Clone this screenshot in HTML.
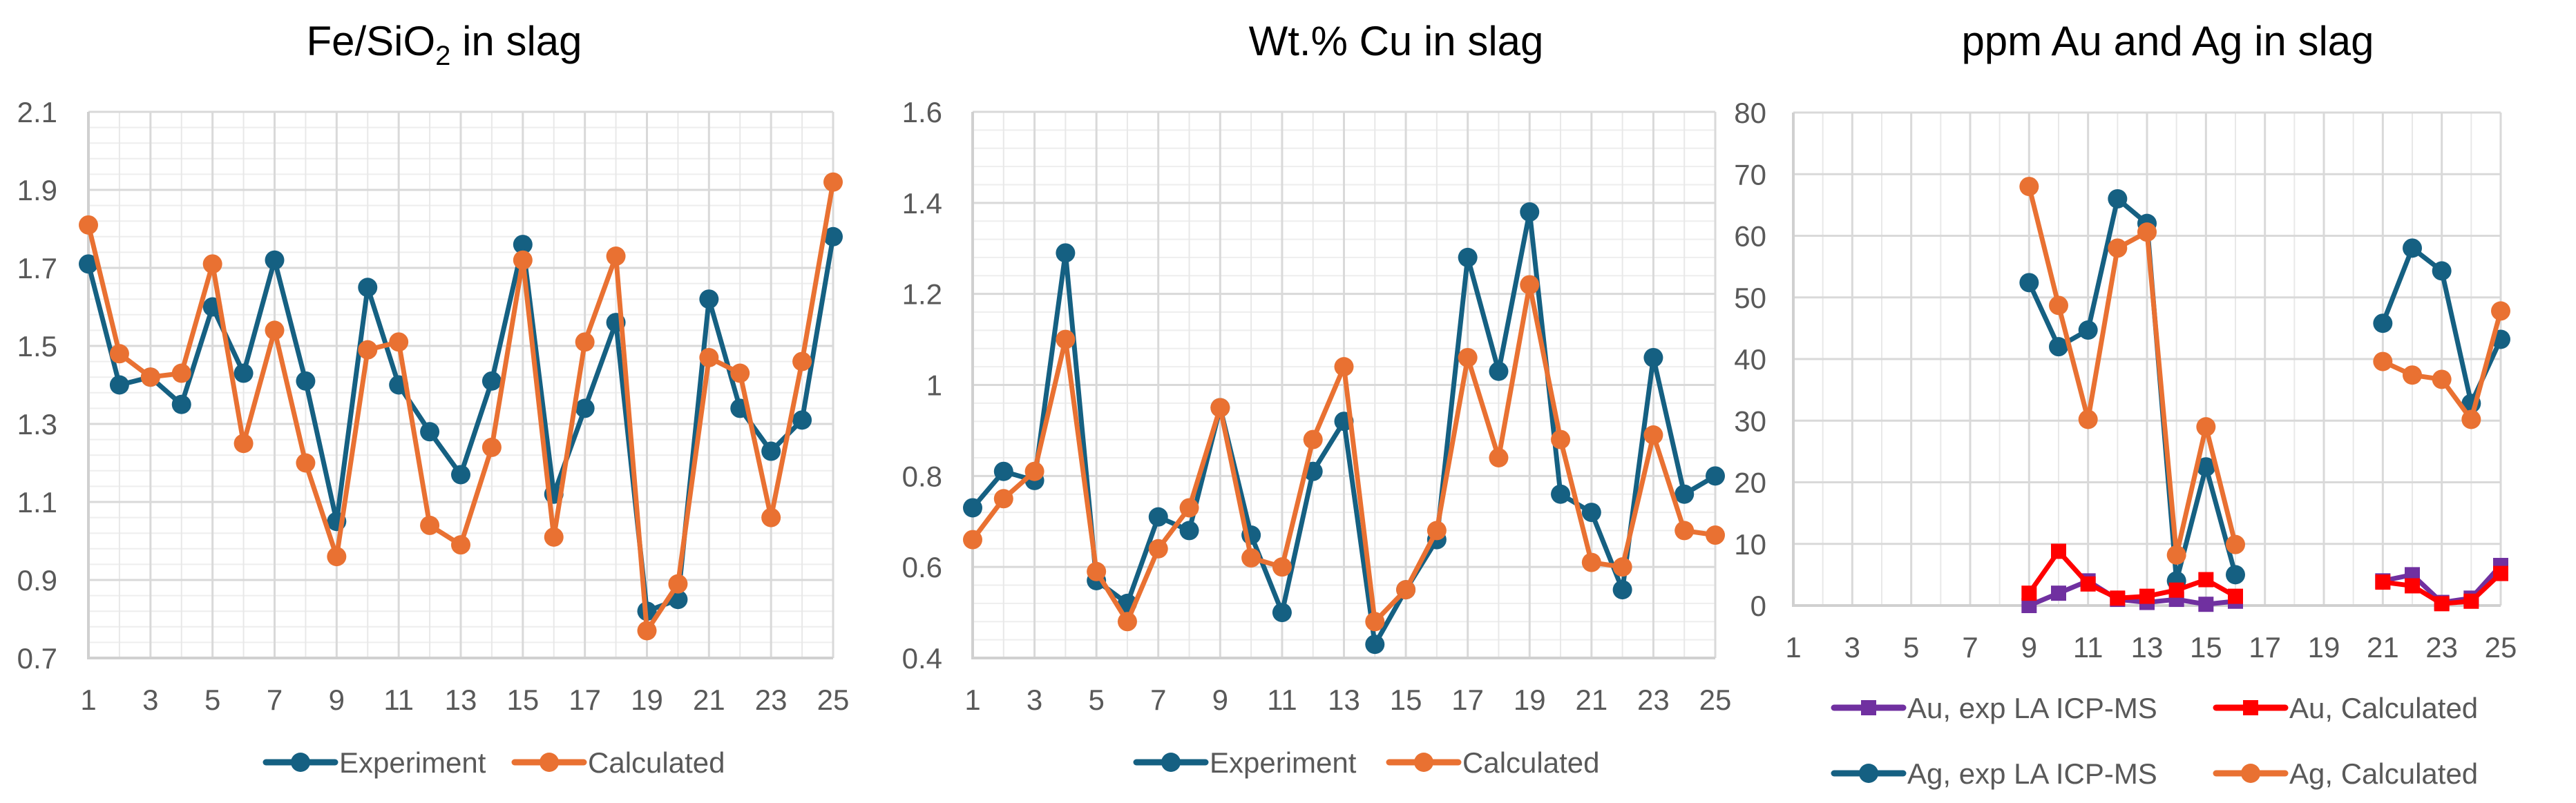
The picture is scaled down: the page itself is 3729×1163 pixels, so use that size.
<!DOCTYPE html>
<html><head><meta charset="utf-8">
<style>
html,body{margin:0;padding:0;background:#fff;}
svg{display:block;font-family:"Liberation Sans",sans-serif;}
</style></head>
<body>
<svg id="fig" width="3729" height="1163" viewBox="0 0 3729 1163" xmlns="http://www.w3.org/2000/svg">
<rect width="3729" height="1163" fill="#fff"/>
<text x="643" y="80" font-size="60" text-anchor="middle" fill="#000">Fe/SiO<tspan font-size="40" dy="14">2</tspan><tspan dy="-14"> in slag</tspan></text>
<text x="2021" y="80" font-size="60" text-anchor="middle" fill="#000">Wt.% Cu in slag</text>
<text x="3138" y="80" font-size="60" text-anchor="middle" fill="#000">ppm Au and Ag in slag</text>
<g id="c1"></g>
<g id="c2"></g>
<g id="c3"></g>
</svg>
<script>
const xCats = [1,2,3,4,5,6,7,8,9,10,11,12,13,14,15,16,17,18,19,20,21,22,23,24,25];
const xTickLabels = [1,3,5,7,9,11,13,15,17,19,21,23,25];
const feExp = [1.71,1.40,1.42,1.35,1.60,1.43,1.72,1.41,1.05,1.65,1.40,1.28,1.17,1.41,1.76,1.12,1.34,1.56,0.82,0.85,1.62,1.34,1.23,1.31,1.78];
const feCalc = [1.81,1.48,1.42,1.43,1.71,1.25,1.54,1.20,0.96,1.49,1.51,1.04,0.99,1.24,1.72,1.01,1.51,1.73,0.77,0.89,1.47,1.43,1.06,1.46,1.92];
const feTicks = [0.7,0.9,1.1,1.3,1.5,1.7,1.9,2.1];
const cuExp = [0.73,0.81,0.79,1.29,0.57,0.52,0.71,0.68,0.95,0.67,0.50,0.81,0.92,0.43,0.55,0.66,1.28,1.03,1.38,0.76,0.72,0.55,1.06,0.76,0.80];
const cuCalc = [0.66,0.75,0.81,1.10,0.59,0.48,0.64,0.73,0.95,0.62,0.60,0.88,1.04,0.48,0.55,0.68,1.06,0.84,1.22,0.88,0.61,0.60,0.89,0.68,0.67];
const cuTicks = [0.4,0.6,0.8,1,1.2,1.4,1.6];
const auExp = [null,null,null,null,null,null,null,null,0,2,4,1,0.5,1,0.2,0.7,null,null,null,null,4,5,0.5,1.2,6.5];
const auCalc = [null,null,null,null,null,null,null,null,2,8.8,3.5,1.2,1.5,2.5,4.2,1.5,null,null,null,null,3.8,3.2,0.3,0.7,5.2];
const agExp = [null,null,null,null,null,null,null,null,52.4,42,44.7,66,62,4,22.5,5,null,null,null,null,45.8,58,54.3,32.8,43.2];
const agCalc = [null,null,null,null,null,null,null,null,68,48.7,30.2,58,60.6,8.2,29,9.9,null,null,null,null,39.6,37.4,36.7,30.2,47.8];
const auTicks = [0,10,20,30,40,50,60,70,80];

const NS = "http://www.w3.org/2000/svg";
function mk(parent, tag, attrs){
  const e = document.createElementNS(NS, tag);
  for (const k in attrs) e.setAttribute(k, attrs[k]);
  parent.appendChild(e); return e;
}
const BLUE="#156082", ORANGE="#E97132", PURPLE="#7030A0", RED="#FF0000";

function chart(g, P, yTicks, minorDiv, series, legend){
  const xs = v => P.l + (v-1)*(P.r-P.l)/24;
  const ys = v => P.b - (v-yTicks[0])*(P.b-P.t)/(yTicks[yTicks.length-1]-yTicks[0]);
  // minor horizontal grid
  if (minorDiv>1){
    for (let i=0;i<yTicks.length-1;i++){
      for (let j=1;j<minorDiv;j++){
        const v = yTicks[i] + (yTicks[i+1]-yTicks[i])*j/minorDiv;
        const ln = mk(g,'line',{x1:P.l,x2:P.r,y1:ys(v),y2:ys(v),stroke:'#eeeeee','stroke-width':2});
        
        
      }
    }
  }
  // vertical grid
  xCats.forEach(c=>{
    const major = (c%2===1);
    const ln = mk(g,'line',{x1:xs(c),x2:xs(c),y1:P.t,y2:P.b,stroke: major?'#d9d9d9':'#e8e8e8','stroke-width':major?3:2});
    
    
  });
  yTicks.forEach(v=>{
    const ln = mk(g,'line',{x1:P.l,x2:P.r,y1:ys(v),y2:ys(v),stroke:'#d9d9d9','stroke-width':3});
    
    
    const t = mk(g,'text',{x:P.yl,y:ys(v)+15,'font-size':42,'text-anchor':'end',fill:'#595959'});
    t.textContent = String(v);
    
    
  });
  const ax = mk(g,'path',{d:`M${P.l},${P.t} V${P.b} H${P.r}`,fill:'none',stroke:'#d0d0d0','stroke-width':4});
  
  
  xTickLabels.forEach(c=>{
    const t = mk(g,'text',{x:xs(c),y:P.xl,'font-size':42,'text-anchor':'middle',fill:'#595959'});
    t.textContent = String(c);
    
    
  });
  series.forEach(s=>{
    let d='', pen=false;
    s.vals.forEach((v,i)=>{
      if (v===null){pen=false;return;}
      d += (pen?'L':'M')+xs(xCats[i])+','+ys(v)+' '; pen=true;
    });
    const p = mk(g,'path',{d:d,fill:'none',stroke:s.color,'stroke-width':7,'stroke-linejoin':'round'});
    
    
    s.vals.forEach((v,i)=>{
      if (v===null) return;
      let m;
      if (s.marker==='sq') m = mk(g,'rect',{x:xs(xCats[i])-11,y:ys(v)-11,width:22,height:22,fill:s.color});
      else m = mk(g,'circle',{cx:xs(xCats[i]),cy:ys(v),r:14,fill:s.color});
      
      
    });
  });
  legend.forEach(L=>{
    const s = series[L.i];
    const lg = mk(g,'g',{});
    
    
    mk(lg,'line',{x1:L.x,x2:L.x+100,y1:L.y,y2:L.y,stroke:s.color,'stroke-width':9,'stroke-linecap':'round'});
    if (s.marker==='sq') mk(lg,'rect',{x:L.x+39,y:L.y-11,width:22,height:22,fill:s.color});
    else mk(lg,'circle',{cx:L.x+50,cy:L.y,r:14,fill:s.color});
    const t = mk(lg,'text',{x:L.x+106,y:L.y+15,'font-size':42,fill:'#595959'});
    t.textContent = L.label;
  });
}

chart(document.getElementById('c1'), {l:128,r:1206,t:162,b:953,yl:83,xl:1028}, feTicks, 5,
  [{name:'experiment',vals:feExp,color:BLUE},{name:'calculated',vals:feCalc,color:ORANGE}],
  [{i:0,x:385,y:1104,label:'Experiment'},{i:1,x:745,y:1104,label:'Calculated'}]);
chart(document.getElementById('c2'), {l:1408,r:2483,t:162,b:953,yl:1364,xl:1028}, cuTicks, 5,
  [{name:'experiment',vals:cuExp,color:BLUE},{name:'calculated',vals:cuCalc,color:ORANGE}],
  [{i:0,x:1645,y:1104,label:'Experiment'},{i:1,x:2011,y:1104,label:'Calculated'}]);
chart(document.getElementById('c3'), {l:2596,r:3620,t:163,b:877,yl:2557,xl:952}, auTicks, 1,
  [{name:'ag-exp',vals:agExp,color:BLUE},{name:'ag-calc',vals:agCalc,color:ORANGE},
   {name:'au-exp',vals:auExp,color:PURPLE,marker:'sq'},{name:'au-calc',vals:auCalc,color:RED,marker:'sq'}],
  [{i:2,x:2655,y:1025,label:'Au, exp LA ICP-MS'},{i:3,x:3208,y:1025,label:'Au, Calculated'},
   {i:0,x:2655,y:1120,label:'Ag, exp LA ICP-MS'},{i:1,x:3208,y:1120,label:'Ag, Calculated'}]);
</script>
</body></html>
